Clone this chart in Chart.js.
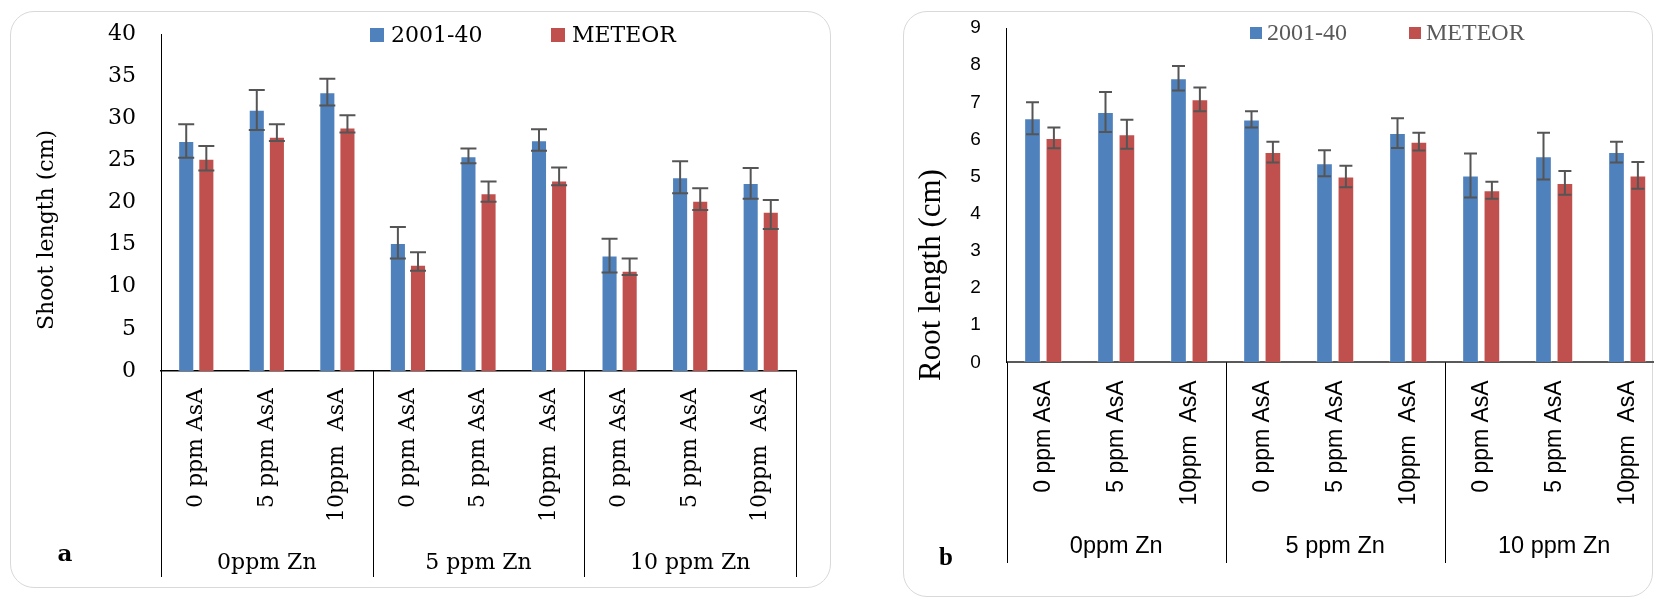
<!DOCTYPE html>
<html><head><meta charset="utf-8">
<script src="https://cdn.jsdelivr.net/npm/chart.js@4.4.1/dist/chart.umd.min.js"></script>
<style>
html,body{margin:0;padding:0;width:1654px;height:598px;overflow:hidden;background:#fff;}
.panel{position:absolute;border:1.5px solid #d9d9d9;border-radius:24px;box-sizing:border-box;}
canvas{position:absolute;top:0;}
</style></head><body>
<div class="panel" style="left:10px;top:11px;width:821px;height:577px"></div>
<div class="panel" style="left:903px;top:11px;width:750px;height:586px"></div>
<canvas id="ca" width="850" height="598" style="left:0px"></canvas>
<canvas id="cb" width="830" height="598" style="left:860px"></canvas>
<script>
// ---------- data ----------
const categories = ["0 ppm AsA","5 ppm AsA","10ppm  AsA","0 ppm AsA","5 ppm AsA","10ppm  AsA","0 ppm AsA","5 ppm AsA","10ppm  AsA"];
const groups = ["0ppm Zn","5 ppm Zn","10 ppm Zn"];
const seriesNames = ["2001-40","METEOR"];

const shoot2001        = [27.3, 31.0, 33.1, 15.2, 25.5, 27.4, 13.7, 23.0, 22.3];
const shoot2001ErrUp   = [2.0, 2.35, 1.6, 1.9, 0.9, 1.3, 2.0, 1.9, 1.8];
const shoot2001ErrDown = [2.0, 2.4, 1.6, 1.85, 0.85, 1.25, 2.0, 1.9, 1.85];
const shootMeteor        = [25.2, 27.8, 28.9, 12.6, 21.1, 22.6, 11.9, 20.2, 18.9];
const shootMeteorErrUp   = [1.5, 1.5, 1.45, 1.5, 1.4, 1.55, 1.45, 1.5, 1.4];
const shootMeteorErrDown = [1.4, 0.5, 0.6, 0.7, 1.0, 0.55, 0.5, 1.1, 2.05];

const root2001      = [6.57, 6.74, 7.65, 6.54, 5.36, 6.17, 5.03, 5.55, 5.66];
const root2001Err   = [0.43, 0.54, 0.33, 0.22, 0.35, 0.40, 0.59, 0.63, 0.28];
const rootMeteor    = [6.04, 6.14, 7.08, 5.66, 5.00, 5.94, 4.63, 4.83, 5.03];
const rootMeteorErr = [0.28, 0.39, 0.32, 0.28, 0.29, 0.24, 0.23, 0.32, 0.36];

const shootAxis = {min: 0, max: 40, step: 5};
const rootAxis  = {min: 0, max: 9, step: 1};
const shootTitle = "Shoot length (cm)";
const rootTitle  = "Root length (cm)";

const BLUE = '#4F81BD', RED = '#C0504D';

// ---------- decoration plugin ----------
function decor(o) {
  return {
    id: 'decor' + o.key,
    afterDatasetsDraw(chart) {
      const ctx = chart.ctx, ys = chart.scales.y;
      ctx.save();
      ctx.strokeStyle = '#555555';
      ctx.lineWidth = 2;
      chart.data.datasets.forEach((ds, di) => {
        const meta = chart.getDatasetMeta(di);
        meta.data.forEach((el, i) => {
          const v = ds.data[i];
          const yHi = ys.getPixelForValue(v + ds.errUp[i]);
          const yLo = ys.getPixelForValue(v - ds.errDown[i]);
          const x = el.x;
          ctx.beginPath();
          ctx.moveTo(x, yHi); ctx.lineTo(x, yLo);
          ctx.moveTo(x - o.cap, yHi); ctx.lineTo(x + o.cap, yHi);
          ctx.moveTo(x - o.cap, yLo); ctx.lineTo(x + o.cap, yLo);
          ctx.stroke();
        });
      });
      ctx.restore();
    },
    afterDraw(chart) {
      const ctx = chart.ctx, xs = chart.scales.x, ca = chart.chartArea;
      const n = chart.data.labels.length, per = n / groups.length;
      const half = (xs.getPixelForValue(1) - xs.getPixelForValue(0)) / 2;
      ctx.save();
      // multi-level category separators
      ctx.strokeStyle = '#000'; ctx.lineWidth = 1;
      for (let g = 0; g <= groups.length; g++) {
        const x = g === 0 ? xs.getPixelForValue(0) - half : xs.getPixelForValue(g * per - 1) + half;
        const xr = Math.round(x) + 0.5;
        ctx.beginPath(); ctx.moveTo(xr, ca.bottom); ctx.lineTo(xr, o.lineBottom); ctx.stroke();
      }
      // group labels
      ctx.fillStyle = '#000'; ctx.font = o.groupFont;
      ctx.textAlign = 'center'; ctx.textBaseline = 'middle';
      groups.forEach((g, i) => {
        ctx.fillText(g, xs.getPixelForValue(i * per + (per - 1) / 2), o.groupY);
      });
      // y title
      ctx.save();
      ctx.translate(o.titleX, o.titleY); ctx.rotate(-Math.PI / 2);
      ctx.font = o.titleFont; ctx.fillStyle = '#000';
      ctx.textAlign = 'center'; ctx.textBaseline = 'middle';
      ctx.fillText(o.title, 0, 0);
      ctx.restore();
      // panel letter
      ctx.font = o.letterFont; ctx.fillStyle = '#000';
      ctx.textAlign = 'center'; ctx.textBaseline = 'alphabetic';
      ctx.fillText(o.letter, o.letterX, o.letterY);
      // legend
      ctx.font = o.legendFont; ctx.textAlign = 'left'; ctx.textBaseline = 'middle';
      chart.data.datasets.forEach((ds, i) => {
        const L = o.legend[i];
        ctx.fillStyle = ds.backgroundColor;
        ctx.fillRect(L.x, o.legendY - o.sq / 2, o.sq, o.sq);
        ctx.fillStyle = o.legendColor;
        ctx.fillText(ds.label, L.x + o.sq + o.legendGap, o.legendY + 1);
      });
      ctx.restore();
    }
  };
}

function makeChart(id, o) {
  return new Chart(document.getElementById(id), {
    type: 'bar',
    data: {
      labels: categories,
      datasets: [
        {label: seriesNames[0], data: o.v1, errUp: o.e1u, errDown: o.e1d, backgroundColor: BLUE,
         borderColor: 'rgba(255,255,255,0.35)', borderWidth: 1, categoryPercentage: o.cat, barPercentage: o.bar},
        {label: seriesNames[1], data: o.v2, errUp: o.e2u, errDown: o.e2d, backgroundColor: RED,
         borderColor: 'rgba(255,255,255,0.35)', borderWidth: 1, categoryPercentage: o.cat, barPercentage: o.bar}
      ]
    },
    options: {
      responsive: false, animation: false, devicePixelRatio: 1,
      layout: {padding: {left: 0, top: o.padTop, right: o.padRight, bottom: 0}},
      plugins: {legend: {display: false}, tooltip: {enabled: false}},
      scales: {
        x: {
          grid: {display: false, drawTicks: false},
          border: {display: true, color: o.xAxisColor, width: o.xAxisWidth},
          ticks: {autoSkip: false, minRotation: 90, maxRotation: 90, padding: o.xPad, color: '#000', font: o.xFont},
          afterFit: s => { s.height = o.xH; s.paddingLeft = 0; s.paddingRight = 0; s.paddingTop = 0; s.paddingBottom = 0; }
        },
        y: {
          min: o.axis.min, max: o.axis.max,
          grid: {display: false, drawTicks: false},
          border: {display: true, color: '#000', width: 1},
          ticks: {stepSize: o.axis.step, padding: o.yPad, color: '#000', font: o.yFont},
          afterFit: s => { s.width = o.yW; s.paddingTop = 0; s.paddingBottom = 0; s.paddingLeft = 0; s.paddingRight = 0; }
        }
      }
    },
    plugins: [decor(o)]
  });
}

makeChart('ca', {
  key: 'a', v1: shoot2001, e1u: shoot2001ErrUp, e1d: shoot2001ErrDown,
  v2: shootMeteor, e2u: shootMeteorErrUp, e2d: shootMeteorErrDown, axis: shootAxis,
  cat: 0.57, bar: 0.8, padTop: 34, padRight: 54, xH: 227, yW: 161,
  xPad: 17, yPad: 25, xAxisColor: '#000', xAxisWidth: 1.5,
  xFont: {family: 'DejaVu Serif', size: 22}, yFont: {family: 'DejaVu Serif', size: 22},
  cap: 8, lineBottom: 577, groupY: 563, groupFont: '22px "DejaVu Serif"',
  title: shootTitle, titleX: 47, titleY: 230, titleFont: '22px "DejaVu Serif"',
  letter: 'a', letterX: 65, letterY: 561, letterFont: 'bold 23px "DejaVu Serif"',
  legendFont: '22px "DejaVu Serif"', legendColor: '#000', legendY: 35, sq: 14, legendGap: 7,
  legend: [{x: 370}, {x: 551}]
});

makeChart('cb', {
  key: 'b', v1: root2001, e1u: root2001Err, e1d: root2001Err,
  v2: rootMeteor, e2u: rootMeteorErr, e2d: rootMeteorErr, axis: rootAxis,
  cat: 0.586, bar: 0.78, padTop: 28, padRight: 26.3, xH: 235.7, yW: 146.7,
  xPad: 18, yPad: 26, xAxisColor: '#595959', xAxisWidth: 2,
  xFont: {family: 'Liberation Sans', size: 23}, yFont: {family: 'Liberation Sans', size: 19},
  cap: 6.5, lineBottom: 563, groupY: 547, groupFont: '23.5px "Liberation Sans"',
  title: rootTitle, titleX: 72, titleY: 275, titleFont: '31px "Liberation Serif"',
  letter: 'b', letterX: 86, letterY: 565, letterFont: 'bold 25px "Liberation Serif"',
  legendFont: '24px "Liberation Serif"', legendColor: '#595959', legendY: 33, sq: 12, legendGap: 5,
  legend: [{x: 390}, {x: 549}]
});
</script>
</body></html>
